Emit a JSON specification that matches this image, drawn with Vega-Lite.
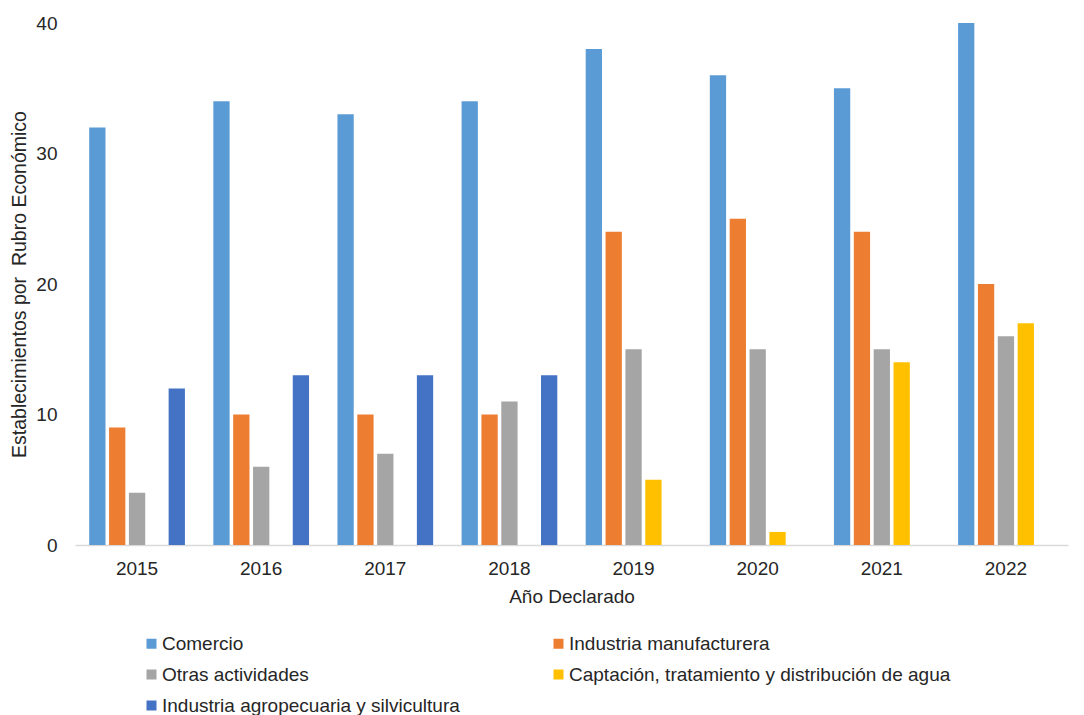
{
  "$schema": "https://vega.github.io/schema/vega-lite/v6.json",
  "autosize": {"type": "none"},
  "width": 993,
  "height": 522,
  "padding": {"left": 75, "top": 23, "right": 16, "bottom": 170},
  "background": "white",
  "config": {"view": {"stroke": null}, "font": "Liberation Sans"},
  "data": {
    "values": [
      {"anio": "2015", "rubro": "Comercio", "n": 32},
      {"anio": "2015", "rubro": "Industria manufacturera", "n": 9},
      {"anio": "2015", "rubro": "Otras actividades", "n": 4},
      {"anio": "2015", "rubro": "Industria agropecuaria y silvicultura", "n": 12},
      {"anio": "2016", "rubro": "Comercio", "n": 34},
      {"anio": "2016", "rubro": "Industria manufacturera", "n": 10},
      {"anio": "2016", "rubro": "Otras actividades", "n": 6},
      {"anio": "2016", "rubro": "Industria agropecuaria y silvicultura", "n": 13},
      {"anio": "2017", "rubro": "Comercio", "n": 33},
      {"anio": "2017", "rubro": "Industria manufacturera", "n": 10},
      {"anio": "2017", "rubro": "Otras actividades", "n": 7},
      {"anio": "2017", "rubro": "Industria agropecuaria y silvicultura", "n": 13},
      {"anio": "2018", "rubro": "Comercio", "n": 34},
      {"anio": "2018", "rubro": "Industria manufacturera", "n": 10},
      {"anio": "2018", "rubro": "Otras actividades", "n": 11},
      {"anio": "2018", "rubro": "Industria agropecuaria y silvicultura", "n": 13},
      {"anio": "2019", "rubro": "Comercio", "n": 38},
      {"anio": "2019", "rubro": "Industria manufacturera", "n": 24},
      {"anio": "2019", "rubro": "Otras actividades", "n": 15},
      {"anio": "2019", "rubro": "Captación, tratamiento y distribución de agua", "n": 5},
      {"anio": "2020", "rubro": "Comercio", "n": 36},
      {"anio": "2020", "rubro": "Industria manufacturera", "n": 25},
      {"anio": "2020", "rubro": "Otras actividades", "n": 15},
      {"anio": "2020", "rubro": "Captación, tratamiento y distribución de agua", "n": 1},
      {"anio": "2021", "rubro": "Comercio", "n": 35},
      {"anio": "2021", "rubro": "Industria manufacturera", "n": 24},
      {"anio": "2021", "rubro": "Otras actividades", "n": 15},
      {"anio": "2021", "rubro": "Captación, tratamiento y distribución de agua", "n": 14},
      {"anio": "2022", "rubro": "Comercio", "n": 40},
      {"anio": "2022", "rubro": "Industria manufacturera", "n": 20},
      {"anio": "2022", "rubro": "Otras actividades", "n": 16},
      {"anio": "2022", "rubro": "Captación, tratamiento y distribución de agua", "n": 17}
    ]
  },
  "mark": {"type": "bar"},
  "encoding": {
    "x": {
      "field": "anio", "type": "nominal",
      "scale": {"paddingInner": 0.2, "paddingOuter": 0.1},
      "axis": {
        "title": "Año Declarado", "labelAngle": 0, "ticks": false,
        "domainColor": "#D9D9D9", "domainWidth": 1.5,
        "labelFontSize": 19, "labelColor": "#262626", "labelPadding": 14,
        "titleFontSize": 19, "titleFontWeight": "normal", "titleColor": "#262626", "titlePadding": 9
      }
    },
    "xOffset": {
      "field": "rubro", "type": "nominal",
      "scale": {
        "domain": ["Comercio", "Industria manufacturera", "Otras actividades", "Captación, tratamiento y distribución de agua", "Industria agropecuaria y silvicultura"],
        "paddingInner": 0.18, "paddingOuter": 0.09
      }
    },
    "y": {
      "field": "n", "type": "quantitative",
      "scale": {"domain": [0, 40], "nice": false},
      "axis": {
        "title": "Establecimientos por \u00a0Rubro Económico", "values": [0, 10, 20, 30, 40],
        "grid": false, "domain": false, "ticks": false,
        "labelFontSize": 19, "labelColor": "#262626", "labelPadding": 18,
        "titleFontSize": 19.5, "titleFontWeight": "normal", "titleColor": "#262626", "titlePadding": 6
      }
    },
    "color": {
      "field": "rubro", "type": "nominal",
      "scale": {
        "domain": ["Comercio", "Industria manufacturera", "Otras actividades", "Captación, tratamiento y distribución de agua", "Industria agropecuaria y silvicultura"],
        "range": ["#5B9BD5", "#ED7D31", "#A5A5A5", "#FFC000", "#4472C4"]
      },
      "legend": {
        "title": null, "orient": "none", "legendX": 67, "legendY": 611, "direction": "horizontal",
        "columns": 2, "columnPadding": 89, "rowPadding": 11,
        "symbolType": "square", "symbolSize": 100, "symbolStrokeWidth": 0,
        "labelFontSize": 19, "labelColor": "#262626", "labelOffset": 1, "labelLimit": 500
      }
    }
  }
}
